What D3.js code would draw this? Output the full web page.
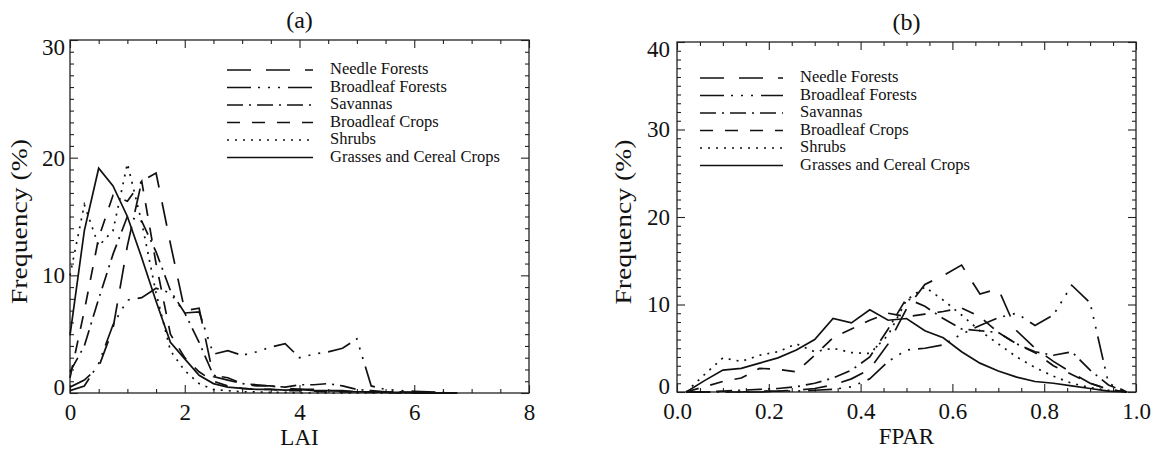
<!DOCTYPE html>
<html>
<head>
<meta charset="utf-8">
<script src="https://cdn.jsdelivr.net/npm/d3@7"></script>
<style>
  html, body { margin: 0; padding: 0; background: #fff; }
  svg { display: block; }
  text { font-family: "Liberation Serif", "Times New Roman", serif; fill: #111; }
</style>
</head>
<body>
<svg id="fig" width="1151" height="449"></svg>
<script>
// Vegetation classes, in legend order
const classes = ["Needle Forests", "Broadleaf Forests", "Savannas", "Broadleaf Crops", "Shrubs", "Grasses and Cereal Crops"];

// ---- Panel (a): LAI histograms (bin centres, frequency in %) ----
const laiBins = [0, 0.25, 0.5, 0.75, 1.0, 1.25, 1.5, 1.75, 2.0, 2.25, 2.5, 2.75, 3.0, 3.25,
                 3.5, 3.75, 4.0, 4.25, 4.5, 4.75, 5.0, 5.25, 5.5, 5.75, 6.0, 6.25, 6.5, 6.75];
const laiNeedle    = [0.5, 1.1, 2.2, 5.5, 12.5, 18.0, 18.7, 12.7, 7.0, 7.2, 1.4, 1.1, 0.8, 0.6, 0.6, 0.4, 0.3, 0.3, 0.2, 0.2, 0.1, 0.1, 0.1, 0.05, 0.05, 0, 0, 0];
const laiBroadleaf = [0.2, 0.6, 2.5, 5.8, 7.9, 8.1, 8.9, 8.5, 6.8, 6.9, 3.3, 3.6, 3.2, 3.5, 3.9, 4.2, 3.0, 3.3, 3.5, 3.8, 4.6, 0.6, 0.3, 0.2, 0.15, 0.1, 0.05, 0];
const laiSavanna   = [1.8, 4.0, 8.0, 11.8, 15.0, 14.6, 12.0, 8.7, 6.8, 4.3, 1.5, 1.3, 0.8, 0.7, 0.6, 0.5, 0.7, 0.7, 0.8, 0.6, 0.3, 0.2, 0.1, 0.1, 0.05, 0, 0, 0];
const laiCrops     = [1.3, 7.0, 13.2, 16.8, 16.3, 18.0, 11.0, 5.0, 3.0, 1.8, 1.0, 0.6, 0.4, 0.3, 0.3, 0.2, 0.2, 0.15, 0.1, 0.1, 0.1, 0.05, 0.05, 0, 0, 0, 0, 0];
const laiShrubs    = [10.0, 16.0, 12.5, 13.8, 19.5, 14.5, 8.5, 3.6, 1.9, 0.8, 0.3, 0.2, 0.1, 0.1, 0.05, 0.05, 0, 0, 0, 0, 0, 0, 0, 0, 0, 0, 0, 0];
const laiGrasses   = [4.9, 13.8, 19.1, 17.6, 15.0, 11.5, 7.8, 4.3, 2.9, 1.5, 0.8, 0.5, 0.4, 0.3, 0.3, 0.25, 0.3, 0.2, 0.2, 0.15, 0.1, 0.1, 0.05, 0.05, 0, 0, 0, 0];
const laiTicks = [0, 2, 4, 6, 8];
const laiMinor = [0.5, 1, 1.5, 2.5, 3, 3.5, 4.5, 5, 5.5, 6.5, 7, 7.5];
const laiFreqTicks = [0, 10, 20, 30];

// ---- Panel (b): FPAR histograms ----
const fparBins = [0.02, 0.06, 0.10, 0.14, 0.18, 0.22, 0.26, 0.30, 0.34, 0.38, 0.42, 0.46, 0.50,
                  0.54, 0.58, 0.62, 0.66, 0.70, 0.74, 0.78, 0.82, 0.86, 0.90, 0.94, 0.98];
const fparNeedle    = [0, 0, 0, 0, 0.1, 0.1, 0.2, 0.4, 0.8, 1.5, 2.6, 5.5, 9.5, 12.3, 13.3, 14.5, 11.2, 11.8, 7.0, 5.0, 3.5, 2.2, 1.0, 0.3, 0];
const fparBroadleaf = [0, 0, 0, 0, 0, 0.1, 0.1, 0.2, 0.3, 0.6, 1.5, 3.5, 4.8, 5.0, 5.4, 6.6, 7.6, 8.5, 9.0, 7.6, 8.8, 12.2, 10.2, 1.0, 0];
const fparSavanna   = [0, 0, 0.1, 0.2, 0.3, 0.4, 0.6, 1.0, 1.6, 2.5, 4.0, 7.2, 10.7, 9.8, 8.4, 7.2, 7.0, 6.8, 5.5, 4.6, 4.2, 4.6, 2.5, 0.8, 0];
const fparCrops     = [0, 0.6, 1.2, 1.6, 2.7, 2.6, 2.3, 4.2, 6.2, 7.2, 8.2, 9.0, 8.6, 8.9, 9.2, 9.6, 8.6, 6.8, 5.5, 4.5, 3.0, 2.0, 1.0, 0.3, 0];
const fparShrubs    = [0, 2.0, 3.9, 3.5, 4.2, 4.6, 5.5, 4.6, 5.0, 4.5, 4.4, 6.5, 10.5, 12.0, 10.5, 8.8, 7.0, 5.5, 4.0, 2.8, 1.8, 1.0, 0.5, 0.2, 0];
const fparGrasses   = [0, 1.3, 2.5, 2.7, 3.3, 3.9, 4.8, 6.0, 8.4, 7.9, 9.4, 8.2, 8.4, 7.0, 6.2, 4.6, 3.3, 2.4, 1.7, 1.2, 1.0, 0.7, 0.4, 0.1, 0];
const fparTicks = [0, 0.2, 0.4, 0.6, 0.8, 1.0];
const fparMinor = [0.05, 0.1, 0.15, 0.25, 0.3, 0.35, 0.45, 0.5, 0.55, 0.65, 0.7, 0.75, 0.85, 0.9, 0.95];
const fparFreqTicks = [0, 10, 20, 30, 40];

// Line patterns per class (long dash, dash-dot-dot-dot, dash-dot, dash, dot, solid)
const dashes = ["24,15", "24,7,2,8,2,8,2,8", "16,6,2,6", "13,12", "2,6", null];

const svg = d3.select("#fig");

function drawPanel(p) {
  const g = svg.append("g").attr("transform", `translate(${p.left},${p.top})`);
  const x = d3.scaleLinear().domain(p.xDomain).range([0, p.width]);
  const y = d3.scaleLinear().domain(p.yDomain).range([p.height, 0]);

  // axes: labelled majors on bottom/left, inward ticks on all four sides
  g.append("g").attr("transform", `translate(0,${p.height})`)
    .call(d3.axisBottom(x).tickValues(p.xTicks).tickSize(-8).tickSizeOuter(0).tickPadding(11).tickFormat(p.xFormat));
  g.append("g").attr("transform", `translate(0,${p.height})`)
    .call(d3.axisBottom(x).tickValues(p.xMinor).tickSize(-4).tickSizeOuter(0).tickFormat(""));
  g.append("g").call(d3.axisTop(x).tickValues(p.xTicks).tickSize(-8).tickSizeOuter(0).tickFormat(""));
  g.append("g").call(d3.axisTop(x).tickValues(p.xMinor).tickSize(-4).tickSizeOuter(0).tickFormat(""));

  const left = g.append("g")
    .call(d3.axisLeft(y).tickValues(p.yTicks).tickSize(-8).tickSizeOuter(0).tickPadding(p.yPad).tickFormat(d3.format("d")));
  g.append("g").call(d3.axisLeft(y).tickValues(p.yMinor).tickSize(-4).tickSizeOuter(0).tickFormat(""));
  g.append("g").attr("transform", `translate(${p.width},0)`)
    .call(d3.axisRight(y).tickValues(p.yTicks).tickSize(-8).tickSizeOuter(0).tickFormat(""));
  g.append("g").attr("transform", `translate(${p.width},0)`)
    .call(d3.axisRight(y).tickValues(p.yMinor).tickSize(-4).tickSizeOuter(0).tickFormat(""));

  g.selectAll(".domain").remove();
  g.selectAll(".tick line").attr("stroke", "#222").attr("stroke-width", 1.1);
  g.selectAll(".tick text").style("font-family", '"Liberation Serif", serif').style("font-size", "23px").attr("fill", "#111");
  // end labels on the frequency axis sit slightly inside the frame
  left.selectAll(".tick text").attr("dy", d => d === p.yDomain[1] ? "0.62em" : (d === 0 ? "0.05em" : "0.32em"));

  g.append("rect").attr("width", p.width).attr("height", p.height)
    .attr("fill", "none").attr("stroke", "#222").attr("stroke-width", 1.3);

  // histogram curves
  const line = d3.line().x(d => x(d[0])).y(d => y(d[1]));
  p.series.forEach((vals, i) => {
    g.append("path")
      .datum(p.bins.map((b, k) => [b, vals[k]]))
      .attr("d", line)
      .attr("fill", "none")
      .attr("stroke", "#111")
      .attr("stroke-width", 1.7)
      .attr("stroke-linejoin", "miter")
      .attr("stroke-dasharray", dashes[i]);
  });

  // legend
  const lg = g.append("g");
  classes.forEach((name, i) => {
    const ly = p.legY + i * 17.5;
    lg.append("line").attr("x1", p.legX).attr("x2", p.legX + p.legLen)
      .attr("y1", ly).attr("y2", ly)
      .attr("stroke", "#111").attr("stroke-width", 1.7)
      .attr("stroke-dasharray", dashes[i]);
    lg.append("text").attr("x", p.legX + p.legLen + 17).attr("y", ly + 4)
      .style("font-size", "16.5px").text(name);
  });

  // titles
  g.append("text").attr("x", p.width / 2).attr("y", -12).attr("text-anchor", "middle")
    .style("font-size", "24px").text(p.title);
  g.append("text").attr("x", p.width / 2).attr("y", p.height + 52).attr("text-anchor", "middle")
    .style("font-size", "23px").text(p.xLabel);
  g.append("text").attr("transform", `translate(${p.yLabelX},${p.height / 2 + 5}) rotate(-90)`)
    .attr("text-anchor", "middle")
    .attr("textLength", 165).attr("lengthAdjust", "spacingAndGlyphs")
    .style("font-size", "23px").text("Frequency (%)");
}

drawPanel({
  title: "(a)", xLabel: "LAI",
  left: 70, top: 40, width: 459, height: 353,
  xDomain: [0, 8], yDomain: [0, 30],
  xTicks: laiTicks, xMinor: laiMinor, xFormat: d3.format("d"),
  yTicks: laiFreqTicks, yMinor: d3.range(1, 30).filter(v => v % 10 !== 0), yPad: 5,
  bins: laiBins,
  series: [laiNeedle, laiBroadleaf, laiSavanna, laiCrops, laiShrubs, laiGrasses],
  legX: 157, legY: 30, legLen: 86, yLabelX: -43
});

drawPanel({
  title: "(b)", xLabel: "FPAR",
  left: 677, top: 42, width: 459, height: 350,
  xDomain: [0, 1], yDomain: [0, 40],
  xTicks: fparTicks, xMinor: fparMinor, xFormat: d3.format(".1f"),
  yTicks: fparFreqTicks, yMinor: d3.range(1, 40).filter(v => v % 10 !== 0), yPad: 7,
  bins: fparBins,
  series: [fparNeedle, fparBroadleaf, fparSavanna, fparCrops, fparShrubs, fparGrasses],
  legX: 23, legY: 36, legLen: 83, yLabelX: -46
});
</script>
</body>
</html>
